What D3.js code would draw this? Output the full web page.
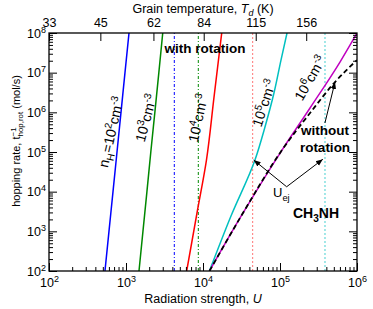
<!DOCTYPE html>
<html>
<head>
<meta charset="utf-8">
<script src="https://cdnjs.cloudflare.com/ajax/libs/d3/7.8.5/d3.min.js"></script>
<style>
  body { margin: 0; background: #fff; }
  text { font-family: "Liberation Sans", Arial, sans-serif; fill: #000; }
</style>
</head>
<body>
<script>
// hopping rate (mol/s) at which the steep curves were read
var rateDecades = [1e2, 1e3, 1e4, 1e5, 1e6, 1e7, 1e8];
// radiation strength U
var uN2 = [533, 601, 678, 764, 861, 970, 1094];
var uN3 = [1475, 1660, 1870, 2100, 2370, 2670, 3000];
var uN4 = [6140, 8490, 11090, 13900, 17500];
var rN4 = [1e2, 3450, 62800, 2.43e6, 1e8];
var uN5 = [12130, 23100, 47300, 63800, 83500, 103000, 123300];
var rN5 = [1e2, 2430, 62800, 4.27e5, 3.07e6, 2.08e7, 1e8];
var uN6 = [12130, 30270, 106200, 245500, 601000, 1e6];
var rN6 = [1e2, 2170, 1.12e5, 1.285e6, 1.855e7, 1e8];
var uNoRot = [12130, 30270, 106200, 245500, 517600, 1e6];
var rNoRot = [1e2, 2170, 1.12e5, 9.6e5, 5.8e6, 2.08e7];
// ejection thresholds U_ej for n_H = 1e2 .. 1e5
var uEject = [4240, 8690, 44150, 384000];
// axis ticks
var uTicks = [1e2, 1e3, 1e4, 1e5, 1e6];
var rateTicks = [1e2, 1e3, 1e4, 1e5, 1e6, 1e7, 1e8];
var tdTicks = [33, 45, 62, 84, 115, 156];
var tdRange = [33, 212];

(function() {
  'use strict';

  var W = 373, H = 309;
  var left = 49, right = 357, top = 33, bottom = 271;

  var svg = d3.select('body').append('svg')
    .attr('width', W)
    .attr('height', H);

  var x = d3.scaleLog().domain([1e2, 1e6]).range([left, right]);
  var y = d3.scaleLog().domain([1e2, 1e8]).range([bottom, top]);
  var xTop = d3.scaleLog().domain(tdRange).range([left, right]);

  // text with super/subscripts: parts = [[str, 'sup'|'sub'|'', dx]]
  function rich(text, parts, size) {
    var shift = 0;
    parts.forEach(function(p) {
      var target = p[1] === 'sup' ? -0.4 * size : (p[1] === 'sub' ? 0.28 * size : 0);
      var t = text.append('tspan')
        .attr('font-size', p[1] ? size * 0.72 : size)
        .text(p[0]);
      if (target - shift !== 0) t.attr('dy', target - shift);
      if (p[2]) t.attr('dx', p[2]);
      shift = target;
    });
  }

  svg.append('clipPath').attr('id', 'plot')
    .append('rect')
    .attr('x', left).attr('y', top)
    .attr('width', right - left).attr('height', bottom - top);

  var plot = svg.append('g').attr('clip-path', 'url(#plot)');

  // vertical U_ej lines
  var ejStyle = [
    { color: '#0000ff', dash: '3,2,1,2', op: 1 },
    { color: '#008800', dash: '3,2,1,2', op: 1 },
    { color: '#ff5555', dash: '2,2', op: 0.8 },
    { color: '#33cccc', dash: '2,2', op: 0.9 }
  ];
  plot.selectAll('line.ej')
    .data(uEject)
    .enter()
    .append('line')
    .attr('class', 'ej')
    .attr('x1', function(d) { return x(d); })
    .attr('x2', function(d) { return x(d); })
    .attr('y1', y(1e2))
    .attr('y2', y(1e8))
    .attr('stroke', function(d, i) { return ejStyle[i].color; })
    .attr('stroke-opacity', function(d, i) { return ejStyle[i].op; })
    .attr('stroke-width', 1)
    .attr('stroke-dasharray', function(d, i) { return ejStyle[i].dash; });

  var line = d3.line()
    .x(function(d) { return x(d[0]); })
    .y(function(d) { return y(d[1]); })
    .curve(d3.curveMonotoneY);

  var lineX = d3.line()
    .x(function(d) { return x(d[0]); })
    .y(function(d) { return y(d[1]); })
    .curve(d3.curveMonotoneX);

  var curves = [
    { u: uN2, r: rateDecades, color: '#0000ff' },
    { u: uN3, r: rateDecades, color: '#008800' },
    { u: uN4, r: rN4, color: '#ff0000' },
    { u: uN5, r: rN5, color: '#00c0c0' },
    { u: uN6, r: rN6, color: '#c000c0' }
  ];

  curves.forEach(function(c) {
    var pts = c.u.map(function(u, i) { return [u, c.r[i]]; });
    plot.append('path')
      .attr('d', line(pts))
      .attr('fill', 'none')
      .attr('stroke', c.color)
      .attr('stroke-width', 1.5);
  });

  var noRot = uNoRot.map(function(u, i) { return [u, rNoRot[i]]; });
  plot.append('path')
    .attr('d', lineX(noRot))
    .attr('fill', 'none')
    .attr('stroke', '#000')
    .attr('stroke-width', 1.8)
    .attr('stroke-dasharray', '5,3');

  // frame
  svg.append('rect')
    .attr('x', left).attr('y', top)
    .attr('width', right - left).attr('height', bottom - top)
    .attr('fill', 'none')
    .attr('stroke', '#000')
    .attr('stroke-width', 1.3);

  function minors(scale) {
    return scale.ticks().filter(function(v) {
      var l = Math.log10(v);
      return Math.abs(l - Math.round(l)) > 1e-6;
    });
  }

  function supLabels(g, anchor) {
    g.selectAll('.tick text').each(function(d) {
      var t = d3.select(this).text(null).attr('text-anchor', anchor);
      rich(t, [['10', ''], [String(Math.round(Math.log10(d))), 'sup']], 12.5);
    });
  }

  function clean(g) {
    g.select('.domain').remove();
    g.selectAll('line').attr('stroke', '#000').attr('stroke-width', 1);
    g.attr('font-family', null);
  }

  // bottom axis
  var gx = svg.append('g')
    .attr('transform', 'translate(0,' + bottom + ')')
    .call(d3.axisBottom(x).tickValues(uTicks).tickSize(-8).tickPadding(7))
    .attr('font-size', 12.5);
  clean(gx);
  supLabels(gx, 'middle');
  var gxm = svg.append('g')
    .attr('transform', 'translate(0,' + bottom + ')')
    .call(d3.axisBottom(x).tickValues(minors(x)).tickSize(-4).tickFormat(''));
  clean(gxm);

  // left axis
  var gy = svg.append('g')
    .attr('transform', 'translate(' + left + ',0)')
    .call(d3.axisLeft(y).tickValues(rateTicks).tickSize(-8).tickPadding(3))
    .attr('font-size', 12.5);
  clean(gy);
  supLabels(gy, 'end');
  var gym = svg.append('g')
    .attr('transform', 'translate(' + left + ',0)')
    .call(d3.axisLeft(y).tickValues(minors(y)).tickSize(-4).tickFormat(''));
  clean(gym);

  // right axis
  var gr = svg.append('g')
    .attr('transform', 'translate(' + right + ',0)')
    .call(d3.axisRight(y).tickValues(rateTicks).tickSize(-8).tickFormat(''));
  clean(gr);
  var grm = svg.append('g')
    .attr('transform', 'translate(' + right + ',0)')
    .call(d3.axisRight(y).tickValues(minors(y)).tickSize(-4).tickFormat(''));
  clean(grm);

  // top axis: grain temperature
  var gt = svg.append('g')
    .attr('transform', 'translate(0,' + top + ')')
    .call(d3.axisTop(xTop).tickValues(tdTicks).tickSize(-8).tickPadding(6)
      .tickFormat(function(d) { return d; }))
    .attr('font-size', 12.5);
  clean(gt);
  svg.selectAll('.tick text').attr('fill', '#000');

  // axis titles
  var tTop = svg.append('text').attr('x', 203).attr('y', 13)
    .attr('text-anchor', 'middle').attr('font-size', 12.5);
  tTop.append('tspan').text('Grain temperature, ');
  tTop.append('tspan').attr('font-style', 'italic').text('T');
  tTop.append('tspan').attr('font-size', 9).attr('font-style', 'italic').attr('dy', 3).text('d');
  tTop.append('tspan').attr('dy', -3).text(' (K)');

  var tBot = svg.append('text').attr('x', 203).attr('y', 303)
    .attr('text-anchor', 'middle').attr('font-size', 12.5);
  tBot.append('tspan').text('Radiation strength, ');
  tBot.append('tspan').attr('font-style', 'italic').text('U');

  var tLeft = svg.append('text')
    .attr('transform', 'translate(20,141) rotate(-90)')
    .attr('text-anchor', 'middle').attr('font-size', 11);
  rich(tLeft, [['hopping rate, t', ''], ['\u22121', 'sup'], ['hop,rot', 'sub', -9], [' (mol/s)', '']], 11);

  // density labels along the curves
  var densLabels = [
    { x: 111, y: 132, a: -77, parts: [['n', ''], ['H', 'sub'], ['=10', ''], ['2', 'sup'], ['cm', ''], ['-3', 'sup']] },
    { x: 146, y: 118, a: -75, parts: [['10', ''], ['3', 'sup'], ['cm', ''], ['-3', 'sup']] },
    { x: 198, y: 118, a: -78, parts: [['10', ''], ['4', 'sup'], ['cm', ''], ['-3', 'sup']] },
    { x: 264, y: 103, a: -72, parts: [['10', ''], ['5', 'sup'], ['cm', ''], ['-3', 'sup']] },
    { x: 310, y: 78, a: -60, parts: [['10', ''], ['6', 'sup'], ['cm', ''], ['-3', 'sup']] }
  ];
  densLabels.forEach(function(l) {
    var t = svg.append('text')
      .attr('transform', 'translate(' + l.x + ',' + l.y + ') rotate(' + l.a + ')')
      .attr('text-anchor', 'middle')
      .attr('dy', 5)
      .attr('font-size', 14);
    rich(t, l.parts, 14);
  });

  // annotations
  svg.append('text').attr('x', 205).attr('y', 53)
    .attr('text-anchor', 'middle').attr('font-size', 13.5).attr('font-weight', 'bold')
    .text('with rotation');
  svg.append('text').attr('x', 325).attr('y', 135)
    .attr('text-anchor', 'middle').attr('font-size', 13.5).attr('font-weight', 'bold')
    .text('without');
  svg.append('text').attr('x', 325).attr('y', 152)
    .attr('text-anchor', 'middle').attr('font-size', 13.5).attr('font-weight', 'bold')
    .text('rotation');

  var tU = svg.append('text').attr('x', 273).attr('y', 197).attr('font-size', 13);
  rich(tU, [['U', ''], ['ej', 'sub']], 13);

  var tCH = svg.append('text').attr('x', 293).attr('y', 218)
    .attr('font-size', 14).attr('font-weight', 'bold');
  rich(tCH, [['CH', ''], ['3', 'sub'], ['NH', '']], 14);

  svg.append('defs').append('marker')
    .attr('id', 'arrow')
    .attr('viewBox', '0 0 10 10')
    .attr('refX', 10).attr('refY', 5)
    .attr('markerWidth', 7).attr('markerHeight', 7)
    .attr('markerUnits', 'userSpaceOnUse')
    .attr('orient', 'auto')
    .append('path')
    .attr('d', 'M0,1 L10,5 L0,9 z')
    .attr('fill', '#000');

  // arrows in data coordinates [U, rate]
  var arrows = [
    [[122000, 13300], [45500, 62800]],
    [[122000, 13300], [360000, 65500]],
    [[383000, 538000], [518000, 5.8e6]]
  ];
  arrows.forEach(function(a) {
    svg.append('line')
      .attr('x1', x(a[0][0])).attr('y1', y(a[0][1]))
      .attr('x2', x(a[1][0])).attr('y2', y(a[1][1]))
      .attr('stroke', '#000')
      .attr('stroke-width', 1)
      .attr('marker-end', 'url(#arrow)');
  });
})();
</script>
</body>
</html>
